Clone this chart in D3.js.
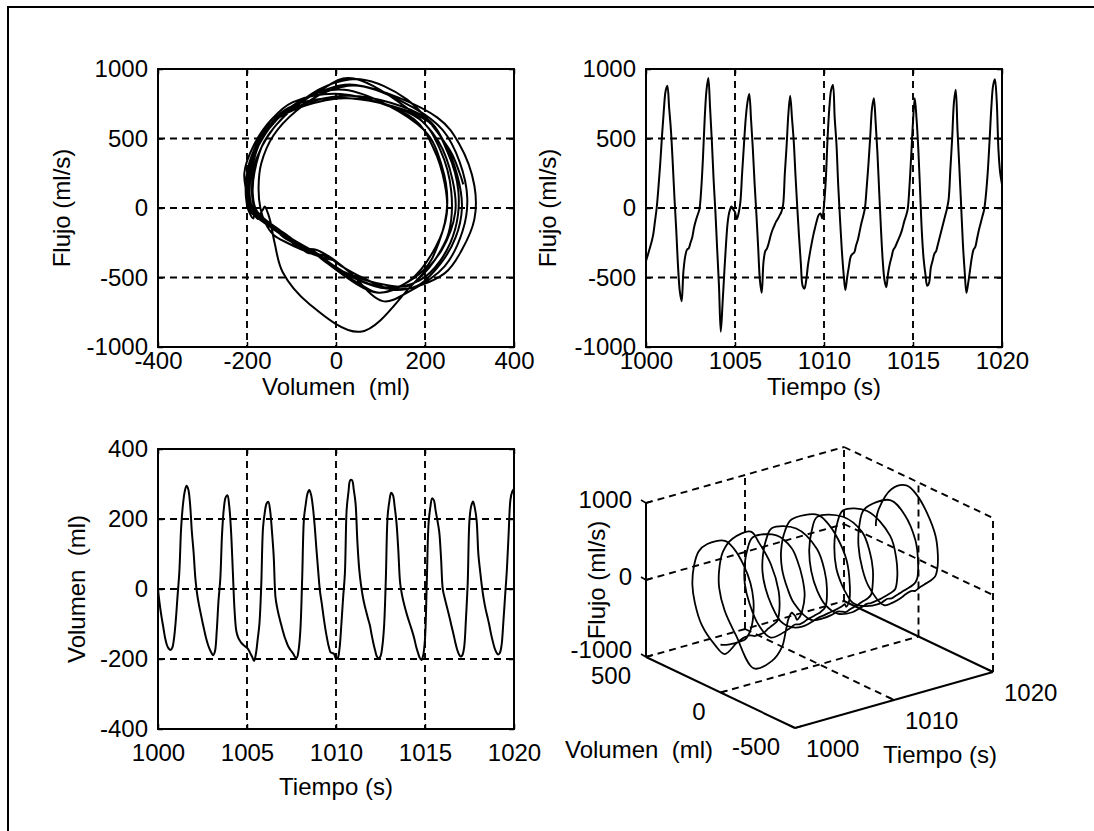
<!DOCTYPE html>
<html>
<head>
<meta charset="utf-8">
<script src="https://cdn.jsdelivr.net/npm/d3@7"></script>
<style>
  html, body { margin: 0; padding: 0; background: #fff; }
  svg { display: block; }
  text { font-family: "Liberation Sans", Arial, Helvetica, sans-serif; font-size: 24px; fill: #000; white-space: pre; }
</style>
</head>
<body>
<svg id="fig" width="1094" height="831"></svg>
<script>
// Sample times (s), 10 samples per second
const time = [
  1000.0,1000.1,1000.2,1000.3,1000.4,1000.5,1000.6,1000.7,1000.8,1000.9,
  1001.0,1001.1,1001.2,1001.3,1001.4,1001.5,1001.6,1001.7,1001.8,1001.9,
  1002.0,1002.1,1002.2,1002.3,1002.4,1002.5,1002.6,1002.7,1002.8,1002.9,
  1003.0,1003.1,1003.2,1003.3,1003.4,1003.5,1003.6,1003.7,1003.8,1003.9,
  1004.0,1004.1,1004.2,1004.3,1004.4,1004.5,1004.6,1004.7,1004.8,1004.9,
  1005.0,1005.1,1005.2,1005.3,1005.4,1005.5,1005.6,1005.7,1005.8,1005.9,
  1006.0,1006.1,1006.2,1006.3,1006.4,1006.5,1006.6,1006.7,1006.8,1006.9,
  1007.0,1007.1,1007.2,1007.3,1007.4,1007.5,1007.6,1007.7,1007.8,1007.9,
  1008.0,1008.1,1008.2,1008.3,1008.4,1008.5,1008.6,1008.7,1008.8,1008.9,
  1009.0,1009.1,1009.2,1009.3,1009.4,1009.5,1009.6,1009.7,1009.8,1009.9,
  1010.0,1010.1,1010.2,1010.3,1010.4,1010.5,1010.6,1010.7,1010.8,1010.9,
  1011.0,1011.1,1011.2,1011.3,1011.4,1011.5,1011.6,1011.7,1011.8,1011.9,
  1012.0,1012.1,1012.2,1012.3,1012.4,1012.5,1012.6,1012.7,1012.8,1012.9,
  1013.0,1013.1,1013.2,1013.3,1013.4,1013.5,1013.6,1013.7,1013.8,1013.9,
  1014.0,1014.1,1014.2,1014.3,1014.4,1014.5,1014.6,1014.7,1014.8,1014.9,
  1015.0,1015.1,1015.2,1015.3,1015.4,1015.5,1015.6,1015.7,1015.8,1015.9,
  1016.0,1016.1,1016.2,1016.3,1016.4,1016.5,1016.6,1016.7,1016.8,1016.9,
  1017.0,1017.1,1017.2,1017.3,1017.4,1017.5,1017.6,1017.7,1017.8,1017.9,
  1018.0,1018.1,1018.2,1018.3,1018.4,1018.5,1018.6,1018.7,1018.8,1018.9,
  1019.0,1019.1,1019.2,1019.3,1019.4,1019.5,1019.6,1019.7,1019.8,1019.9,
  1020.0
];

// Airflow (ml/s)
const flow = [
  -380,-340,-295,-250,-195,-100,0,150,320,520,
  700,840,880,720,560,330,70,-160,-420,-600,
  -670,-460,-350,-300,-290,-250,-210,-140,-90,-50,
  -10,130,360,650,850,935,720,480,200,-30,
  -300,-560,-890,-690,-460,-250,-90,-20,10,-10,
  -30,-80,-40,40,250,450,640,760,820,640,
  430,180,-40,-280,-520,-610,-390,-310,-290,-250,
  -200,-160,-130,-100,-80,-55,-30,20,250,450,
  680,808,650,480,230,0,-210,-400,-560,-580,
  -520,-410,-330,-260,-195,-140,-90,-50,-40,-75,
  20,200,500,720,850,885,650,460,160,-80,
  -300,-470,-590,-500,-420,-350,-330,-320,-270,-230,
  -170,-110,-60,0,150,320,520,720,790,620,
  400,120,-150,-380,-520,-570,-470,-400,-350,-300,
  -280,-250,-220,-190,-150,-100,-60,-10,150,380,
  620,790,640,420,120,-180,-370,-480,-560,-540,
  -430,-380,-330,-310,-260,-210,-160,-110,-60,-10,
  60,280,500,760,850,560,300,30,-250,-450,
  -610,-540,-450,-360,-300,-280,-220,-160,-110,-60,
  -10,100,260,480,720,880,926,780,420,250,
  170
];

// Lung volume (ml)
const volume = [
  0,-45,-80,-110,-140,-160,-170,-174,-168,-141,
  -89,-19,50,175,240,278,295,285,244,165,
  105,30,-15,-45,-70,-95,-118,-140,-158,-172,
  -182,-189,-178,-120,-33,29,159,230,262,268,
  238,169,55,-60,-120,-138,-148,-155,-160,-164,
  -168,-175,-185,-195,-206,-185,-144,-98,10,175,
  219,244,249,224,166,94,-23,-55,-78,-98,
  -117,-135,-149,-162,-171,-178,-185,-194,-196,-174,
  -116,30,201,242,273,283,269,235,182,114,
  51,-7,-41,-79,-113,-142,-166,-181,-183,-186,
  -200,-197,-169,-102,-25,45,228,277,311,311,
  283,244,136,59,13,-20,-45,-65,-85,-103,
  -130,-155,-176,-193,-198,-192,-165,-107,29,208,
  251,275,268,234,188,111,19,-15,-38,-58,
  -76,-92,-108,-124,-142,-164,-181,-196,-203,-189,
  -142,19,187,234,259,253,223,195,163,90,
  -1,-24,-45,-65,-86,-108,-129,-152,-172,-186,
  -193,-189,-166,-86,18,198,238,250,231,196,
  98,50,6,-29,-56,-78,-100,-126,-148,-167,
  -180,-187,-183,-161,-96,-20,55,160,255,278,
  286
];

// Tick values
const flowTicks = [-1000, -500, 0, 500, 1000];
const volTicks = [-400, -200, 0, 200, 400];
const timeTicks = [1000, 1005, 1010, 1015, 1020];
const flowTicks3d = [-1000, 0, 1000];
const volTicks3d = [500, 0, -500];
const timeTicks3d = [1000, 1010, 1020];

const svg = d3.select('#fig');
const idx = d3.range(time.length);
const fmt = d => String(d);
const DASH = '7,5';
const curve = d3.curveCatmullRom.alpha(0.5);

// figure frame
svg.append('path').attr('d', 'M8,831V7H1094')
  .attr('fill', 'none').attr('stroke', '#000').attr('stroke-width', 2);

function styleAxis(g) {
  g.select('.domain').remove();
  g.selectAll('.tick line').attr('stroke', '#000').attr('stroke-width', 1.5);
  g.selectAll('.tick text')
    .attr('font-size', 24)
    .attr('font-family', '"Liberation Sans", Arial, sans-serif')
    .attr('fill', '#000');
}

function panel2d(o) {
  const xSc = d3.scaleLinear(o.xDomain, [o.x0, o.x1]);
  const ySc = d3.scaleLinear(o.yDomain, [o.y1, o.y0]);
  const g = svg.append('g');

  // dashed grid
  g.append('g').selectAll('line').data(o.xTicks.slice(1, -1)).join('line')
    .attr('x1', d => xSc(d)).attr('x2', d => xSc(d))
    .attr('y1', o.y0).attr('y2', o.y1)
    .attr('stroke', '#000').attr('stroke-width', 1.9).attr('stroke-dasharray', DASH);
  g.append('g').selectAll('line').data(o.yTicks.slice(1, -1)).join('line')
    .attr('y1', d => ySc(d)).attr('y2', d => ySc(d))
    .attr('x1', o.x0).attr('x2', o.x1)
    .attr('stroke', '#000').attr('stroke-width', 1.9).attr('stroke-dasharray', DASH);

  // data trace
  const line = d3.line().curve(curve).x(i => xSc(o.xs[i])).y(i => ySc(o.ys[i]));
  g.append('path').datum(idx).attr('d', line)
    .attr('fill', 'none').attr('stroke', '#000').attr('stroke-width', 2)
    .attr('stroke-linejoin', 'round');

  // axes with inward ticks
  g.append('g').attr('transform', `translate(0,${o.y1})`)
    .call(d3.axisBottom(xSc).tickValues(o.xTicks).tickFormat(fmt)
      .tickSizeInner(-5).tickSizeOuter(0).tickPadding(o.xPad)).call(styleAxis);
  g.append('g').attr('transform', `translate(0,${o.y0})`)
    .call(d3.axisTop(xSc).tickValues(o.xTicks).tickFormat('')
      .tickSizeInner(-5).tickSizeOuter(0)).call(styleAxis);
  g.append('g').attr('transform', `translate(${o.x0},0)`)
    .call(d3.axisLeft(ySc).tickValues(o.yTicks).tickFormat(fmt)
      .tickSizeInner(-5).tickSizeOuter(0).tickPadding(10)).call(styleAxis);
  g.append('g').attr('transform', `translate(${o.x1},0)`)
    .call(d3.axisRight(ySc).tickValues(o.yTicks).tickFormat('')
      .tickSizeInner(-5).tickSizeOuter(0)).call(styleAxis);

  // box
  g.append('rect').attr('x', o.x0).attr('y', o.y0)
    .attr('width', o.x1 - o.x0).attr('height', o.y1 - o.y0)
    .attr('fill', 'none').attr('stroke', '#000').attr('stroke-width', 2);

  // axis titles
  g.append('text').attr('x', (o.x0 + o.x1) / 2).attr('y', o.xTitleY)
    .attr('text-anchor', 'middle').attr('dy', '0.35em').text(o.xTitle);
  g.append('text').attr('transform', `translate(${o.yTitleX},${(o.y0 + o.y1) / 2}) rotate(-90)`)
    .attr('text-anchor', 'middle').attr('dy', '0.35em').text(o.yTitle);
}

// Flow-volume loop
panel2d({
  x0: 158, x1: 514, y0: 69, y1: 347,
  xDomain: [-400, 400], yDomain: [-1000, 1000],
  xTicks: volTicks, yTicks: flowTicks,
  xs: volume, ys: flow, xPad: 5,
  xTitle: 'Volumen  (ml)', yTitle: 'Flujo (ml/s)',
  xTitleY: 387, yTitleX: 62
});

// Flow against time
panel2d({
  x0: 646, x1: 1002, y0: 69, y1: 347,
  xDomain: [1000, 1020], yDomain: [-1000, 1000],
  xTicks: timeTicks, yTicks: flowTicks,
  xs: time, ys: flow, xPad: 5,
  xTitle: 'Tiempo (s)', yTitle: 'Flujo (ml/s)',
  xTitleY: 387, yTitleX: 548
});

// Volume against time
panel2d({
  x0: 158, x1: 514, y0: 449, y1: 729,
  xDomain: [1000, 1020], yDomain: [-400, 400],
  xTicks: timeTicks, yTicks: volTicks,
  xs: time, ys: volume, xPad: 15,
  xTitle: 'Tiempo (s)', yTitle: 'Volumen  (ml)',
  xTitleY: 787, yTitleX: 77
});

// ---- 3D view: time / volume / flow ----
const tF = d3.scaleLinear([1000, 1020], [0, 1]);
const vF = d3.scaleLinear([500, -500], [0, 1]);
const fF = d3.scaleLinear([-1000, 1000], [0, 1]);
const O3 = [646, 657];      // corner t=1000, v=500, f=-1000
const TV = [198, -56];      // full time span
const VV = [149, 71];       // full volume span
const FV = [0, -154];       // full flow span
const P = (t, v, f) => [
  O3[0] + tF(t) * TV[0] + vF(v) * VV[0] + fF(f) * FV[0],
  O3[1] + tF(t) * TV[1] + vF(v) * VV[1] + fF(f) * FV[1]
];
const g3 = svg.append('g');
const seg = (a, b, dashed, w) => g3.append('line')
  .attr('x1', a[0]).attr('y1', a[1]).attr('x2', b[0]).attr('y2', b[1])
  .attr('stroke', '#000').attr('stroke-width', w || 1.9)
  .attr('stroke-dasharray', dashed ? DASH : null);

const [tMin, tMax] = tF.domain();
const [vBack, vFront] = vF.domain();
const [fMin, fMax] = fF.domain();

// back wall at v = 500
timeTicks3d.slice(1).forEach(t => seg(P(t, vBack, fMin), P(t, vBack, fMax), true));
flowTicks3d.forEach(f => seg(P(tMin, vBack, f), P(tMax, vBack, f), true));
// side wall at t = 1020
volTicks3d.slice(1).forEach(v => seg(P(tMax, v, fMin), P(tMax, v, fMax), true));
flowTicks3d.slice(1).forEach(f => seg(P(tMax, vBack, f), P(tMax, vFront, f), true));
// floor
seg(P(1010, vBack, fMin), P(1010, vFront, fMin), true);
seg(P(tMin, 0, fMin), P(tMax, 0, fMin), true);

// solid axis lines
seg(P(tMin, vBack, fMin), P(tMin, vBack, fMax), false, 2);
seg(P(tMin, vBack, fMin), P(tMin, vFront, fMin), false, 2);
seg(P(tMin, vFront, fMin), P(tMax, vFront, fMin), false, 2);
seg(P(tMax, vBack, fMin), P(tMax, vFront, fMin), false, 2);

// small ticks
flowTicks3d.forEach(f => {
  const p = P(tMin, vBack, f);
  seg(p, [p[0] + 6, p[1] - 2], false, 1.5);
  seg(p, [p[0] - 5, p[1] - 3], false, 1.5);
});
volTicks3d.forEach(v => {
  const p = P(tMin, v, fMin);
  seg(p, [p[0] + 7, p[1] - 2], false, 1.5);
});
timeTicks3d.forEach(t => {
  const p = P(t, vFront, fMin);
  seg(p, [p[0] - 6, p[1] - 3], false, 1.5);
});

// trace
const line3 = d3.line().curve(curve)
  .x(i => P(time[i], volume[i], flow[i])[0])
  .y(i => P(time[i], volume[i], flow[i])[1]);
g3.append('path').datum(idx).attr('d', line3)
  .attr('fill', 'none').attr('stroke', '#000').attr('stroke-width', 1.8)
  .attr('stroke-linejoin', 'round');

// tick labels
flowTicks3d.forEach(f => {
  const p = P(tMin, vBack, f);
  g3.append('text').attr('x', p[0] - 14).attr('y', p[1] - (f === fMin ? 7 : 3))
    .attr('text-anchor', 'end').attr('dy', '0.35em').text(fmt(f));
});
volTicks3d.forEach(v => {
  const p = P(tMin, v, fMin);
  g3.append('text').attr('x', p[0] - 15).attr('y', p[1] + 19)
    .attr('text-anchor', 'end').attr('dy', '0.35em').text(fmt(v));
});
timeTicks3d.forEach(t => {
  const p = P(t, vFront, fMin);
  g3.append('text').attr('x', p[0] + 11).attr('y', p[1] + 21)
    .attr('text-anchor', 'start').attr('dy', '0.35em').text(fmt(t));
});

// axis titles
g3.append('text').attr('x', 639).attr('y', 750).attr('text-anchor', 'middle')
  .attr('dy', '0.35em').text('Volumen  (ml)');
g3.append('text').attr('x', 940).attr('y', 755).attr('text-anchor', 'middle')
  .attr('dy', '0.35em').text('Tiempo (s)');
g3.append('text').attr('transform', 'translate(597,580) rotate(-90)')
  .attr('text-anchor', 'middle').attr('dy', '0.35em').text('Flujo (ml/s)');
</script>
</body>
</html>
